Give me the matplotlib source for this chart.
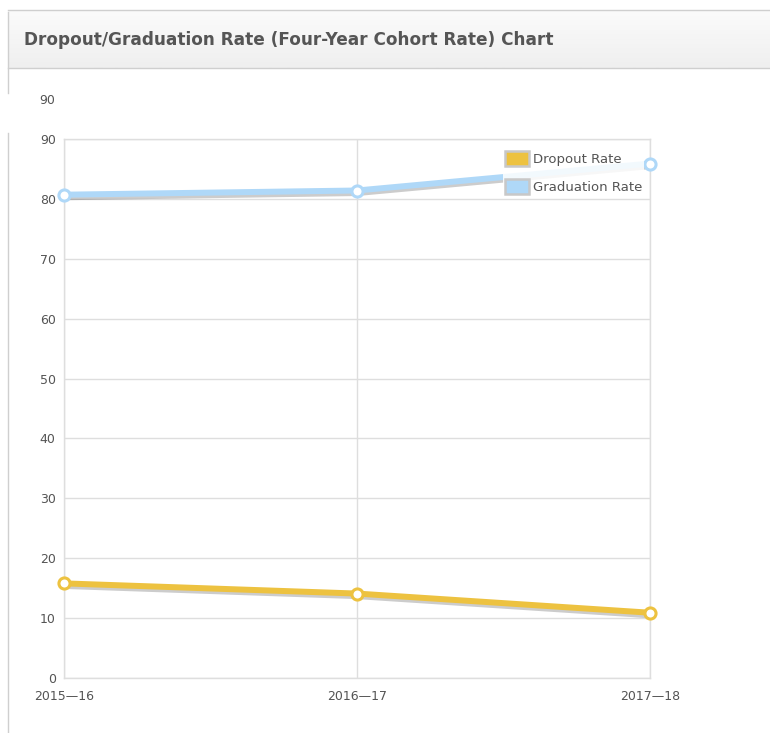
import matplotlib
matplotlib.use("Agg")
import matplotlib.pyplot as plt
import matplotlib.patheffects as pe
from matplotlib.patches import Rectangle
from matplotlib.lines import Line2D
import numpy as np

# Data
years = ["2015\u201416", "2016\u201417", "2017\u201418"]
dropout_rate = [15.8, 14.1, 10.9]
graduation_rate = [80.7, 81.4, 85.9]
y_ticks = [0, 10, 20, 30, 40, 50, 60, 70, 80, 90]

DROP_COLOR = "#edc240"
GRAD_COLOR = "#afd8f8"
GRID_COLOR = "#dedede"
TEXT_COLOR = "#545454"

W, H = 770, 733
fig = plt.figure(figsize=(W / 100, H / 100), dpi=100)
fig.patch.set_facecolor("white")


def fx(px):
    return px / W


def fy(py):
    return 1 - py / H


# Panel header bar with soft gradient
grad = np.linspace(1.0, 0.0, 50).reshape(-1, 1)
hdr_ax = fig.add_axes([fx(8), fy(68), 1 - fx(8), fy(10) - fy(68)])
hdr_ax.imshow(grad, aspect="auto", cmap=matplotlib.colors.LinearSegmentedColormap.from_list(
    "hdr", ["#efefef", "#fbfbfb"]), extent=[0, 1, 0, 1])
hdr_ax.set_xlim(0, 1)
hdr_ax.set_ylim(0, 1)
hdr_ax.axis("off")

# Header and panel borders
fig.add_artist(Line2D([fx(8), 1], [fy(10), fy(10)], color="#cfcfcf", lw=1))
fig.add_artist(Line2D([fx(8), 1], [fy(68), fy(68)], color="#cfcfcf", lw=1))
fig.add_artist(Line2D([fx(8), fx(8)], [fy(12), fy(93)], color="#cfcfcf", lw=1))
fig.add_artist(Line2D([fx(8), fx(8)], [fy(133), 0], color="#cfcfcf", lw=1))

fig.text(fx(24), fy(40), "Dropout/Graduation Rate (Four-Year Cohort Rate) Chart",
         fontsize=12.2, fontweight="bold", color="#555555", va="center", ha="left",
         family="DejaVu Sans")

# Stray axis label above the plot
fig.text(fx(47), fy(100), "90", fontsize=9, color=TEXT_COLOR, ha="center", va="center")

# Main chart
ax = fig.add_axes([fx(64), fy(678), fx(650) - fx(64), fy(139) - fy(678)])
x = np.arange(len(years))

shadow = [pe.SimpleLineShadow(offset=(0, -1.5), shadow_color="#000000", alpha=0.2, linewidth=5),
          pe.Normal()]

ax.plot(x, dropout_rate, color=DROP_COLOR, lw=4.3, solid_capstyle="round", zorder=3,
        path_effects=shadow, clip_on=False, label="Dropout Rate")
ax.plot(x, graduation_rate, color=GRAD_COLOR, lw=4.3, solid_capstyle="round", zorder=3,
        path_effects=shadow, clip_on=False, label="Graduation Rate")
ax.plot(x, dropout_rate, ls="none", marker="o", ms=8, mfc="white", mec=DROP_COLOR,
        mew=2.2, zorder=4, clip_on=False)
ax.plot(x, graduation_rate, ls="none", marker="o", ms=8, mfc="white", mec=GRAD_COLOR,
        mew=2.2, zorder=4, clip_on=False)

ax.set_xlim(0, len(years) - 1)
ax.set_ylim(0, 90)
ax.set_yticks(y_ticks)
ax.set_xticks(x)
ax.set_xticklabels(years)
ax.tick_params(axis="both", length=0, labelsize=9, labelcolor=TEXT_COLOR)
ax.tick_params(axis="y", pad=6)
ax.tick_params(axis="x", pad=9)
ax.grid(True, color=GRID_COLOR, lw=1, zorder=0)
ax.set_axisbelow(True)
for s in ax.spines.values():
    s.set_color(GRID_COLOR)
    s.set_linewidth(1)

# Legend
handles = [Rectangle((0, 0), 1, 1, facecolor=DROP_COLOR, edgecolor="#c8c8c8", lw=1.8),
           Rectangle((0, 0), 1, 1, facecolor=GRAD_COLOR, edgecolor="#c8c8c8", lw=1.8)]
leg = ax.legend(handles, ["Dropout Rate", "Graduation Rate"], loc="upper right",
                bbox_to_anchor=((644 - 64) / (650 - 64), 1 - 10 / 539),
                frameon=True, fancybox=False, framealpha=0.85, edgecolor="none",
                fontsize=9.5, handlelength=1.85, handleheight=1.4, handletextpad=0.25,
                labelspacing=0.95, borderpad=0.15, borderaxespad=0)
for t in leg.get_texts():
    t.set_color(TEXT_COLOR)
leg.set_zorder(5)

fig.savefig("out.png", dpi=100, facecolor="white")
